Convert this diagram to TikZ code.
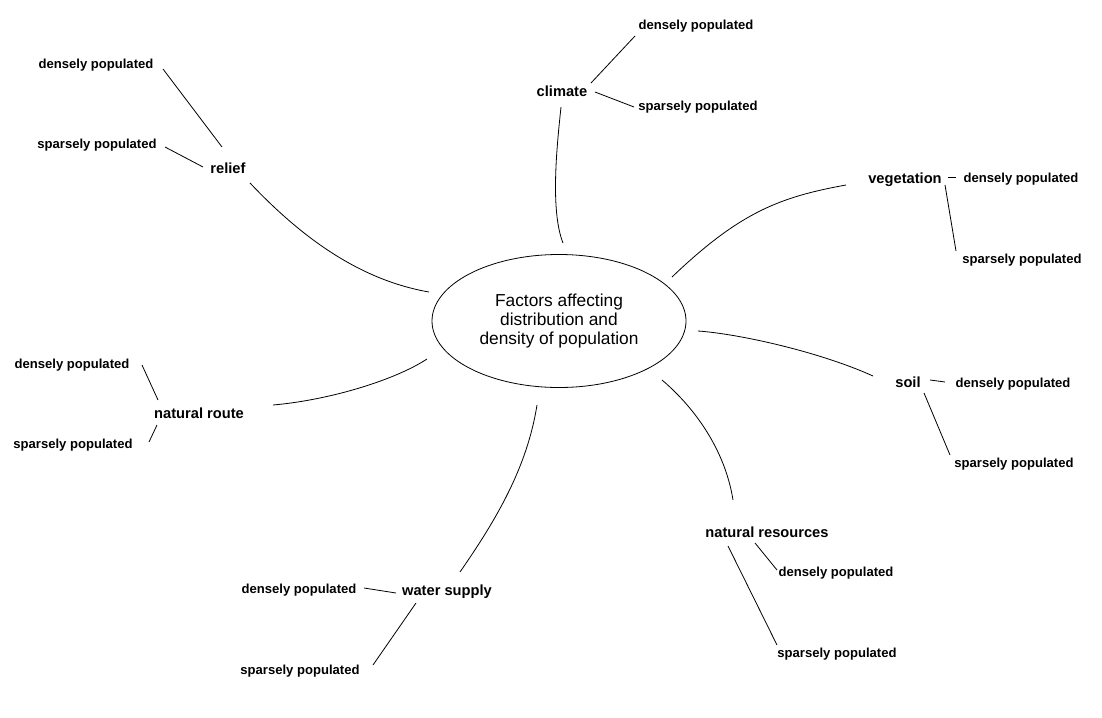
\documentclass[tikz,border=0pt]{standalone}
\usepackage{fontspec}
\setmainfont{Liberation Sans}
\usetikzlibrary{shapes.geometric}
\begin{document}
\begin{tikzpicture}[x=0.75pt,y=-0.75pt,
  leaf/.style={font=\fontsize{9.8}{11}\selectfont\bfseries, inner sep=0pt, yshift=-1.2pt},
  factor/.style={font=\fontsize{11}{13}\selectfont\bfseries, inner sep=0pt, yshift=-1.2pt},
  hubnode/.style={draw, ellipse, line width=0.6pt, inner sep=0pt, minimum width=190.5pt, minimum height=99.75pt, align=center, font=\fontsize{13}{14.25}\selectfont},
  link/.style={draw=black, line width=0.6pt}]
\useasboundingbox (0,0) rectangle (1102,717);
\fill[white] (0,0) rectangle (1102,717);

% central node
\node[hubnode] (hub) at (559,321) {Factors affecting\\distribution and\\density of population};

% factor nodes
\node[factor] (relief) at (228,167) {relief};
\node[factor] (climate) at (562,90) {climate};
\node[factor] (vegetation) at (905,178) {vegetation};
\node[factor] (soil) at (908,381) {soil};
\node[factor] (natres) at (767,531) {natural resources};
\node[factor] (water) at (447,590) {water supply};
\node[factor] (route) at (199,412) {natural route};

% leaf nodes
\node[leaf] (reliefD) at (96,64) {densely populated};
\node[leaf] (reliefS) at (97,144) {sparsely populated};
\node[leaf] (climateD) at (696,25) {densely populated};
\node[leaf] (climateS) at (698,106) {sparsely populated};
\node[leaf] (vegD) at (1021,178) {densely populated};
\node[leaf] (vegS) at (1022,259) {sparsely populated};
\node[leaf] (soilD) at (1013,383) {densely populated};
\node[leaf] (soilS) at (1014,463) {sparsely populated};
\node[leaf] (natresD) at (836,572) {densely populated};
\node[leaf] (natresS) at (837,653) {sparsely populated};
\node[leaf] (waterD) at (299,589) {densely populated};
\node[leaf] (waterS) at (300,670) {sparsely populated};
\node[leaf] (routeD) at (72,364) {densely populated};
\node[leaf] (routeS) at (73,444) {sparsely populated};

% connector end points
\coordinate (hubRelief) at (429,292);   \coordinate (reliefIn) at (250,183);
\coordinate (hubClimate) at (563,243);  \coordinate (climateIn) at (561,107);
\coordinate (hubVeg) at (672,277);      \coordinate (vegIn) at (846,185);
\coordinate (hubSoil) at (698,331);     \coordinate (soilIn) at (873,376);
\coordinate (hubNatres) at (662,380);   \coordinate (natresIn) at (733,500);
\coordinate (hubWater) at (537,405);    \coordinate (waterIn) at (460,572);
\coordinate (hubRoute) at (427,359);    \coordinate (routeIn) at (273,405);

\coordinate (reliefA) at (222,147); \coordinate (reliefDa) at (163,69);
\coordinate (reliefB) at (203,167); \coordinate (reliefSa) at (165,147);
\coordinate (climateA) at (591,83); \coordinate (climateDa) at (635,36);
\coordinate (climateB) at (595,92); \coordinate (climateSa) at (634,107);
\coordinate (vegA) at (948,177);    \coordinate (vegDa) at (956,177);
\coordinate (vegB) at (945,185);    \coordinate (vegSa) at (956,251);
\coordinate (soilA) at (930,380);   \coordinate (soilDa) at (945,382);
\coordinate (soilB) at (924,393);   \coordinate (soilSa) at (950,455);
\coordinate (natresA) at (755,543); \coordinate (natresDa) at (777,570);
\coordinate (natresB) at (728,546); \coordinate (natresSa) at (777,645);
\coordinate (waterA) at (396,593);  \coordinate (waterDa) at (364,588);
\coordinate (waterB) at (416,603);  \coordinate (waterSa) at (373,665);
\coordinate (routeA) at (158,400);  \coordinate (routeDa) at (142,365);
\coordinate (routeB) at (157,425);  \coordinate (routeSa) at (149,442);

% hub connectors
\path[link] (hubRelief) .. controls (360,280) and (302,238) .. (reliefIn);
\path[link] (hubClimate) .. controls (550,210) and (557,145) .. (climateIn);
\path[link] (hubVeg) .. controls (740,212) and (780,197) .. (vegIn);
\path[link] (hubSoil) .. controls (740,334) and (820,352) .. (soilIn);
\path[link] (hubNatres) .. controls (695,408) and (725,450) .. (natresIn);
\path[link] (hubWater) .. controls (527,468) and (496,520) .. (waterIn);
\path[link] (hubRoute) .. controls (395,380) and (330,400) .. (routeIn);

% leaf connectors
\path[link] (reliefA) -- (reliefDa);
\path[link] (reliefB) -- (reliefSa);
\path[link] (climateA) -- (climateDa);
\path[link] (climateB) -- (climateSa);
\path[link] (vegA) -- (vegDa);
\path[link] (vegB) -- (vegSa);
\path[link] (soilA) -- (soilDa);
\path[link] (soilB) -- (soilSa);
\path[link] (natresA) -- (natresDa);
\path[link] (natresB) -- (natresSa);
\path[link] (waterA) -- (waterDa);
\path[link] (waterB) -- (waterSa);
\path[link] (routeA) -- (routeDa);
\path[link] (routeB) -- (routeSa);
\end{tikzpicture}
\end{document}
